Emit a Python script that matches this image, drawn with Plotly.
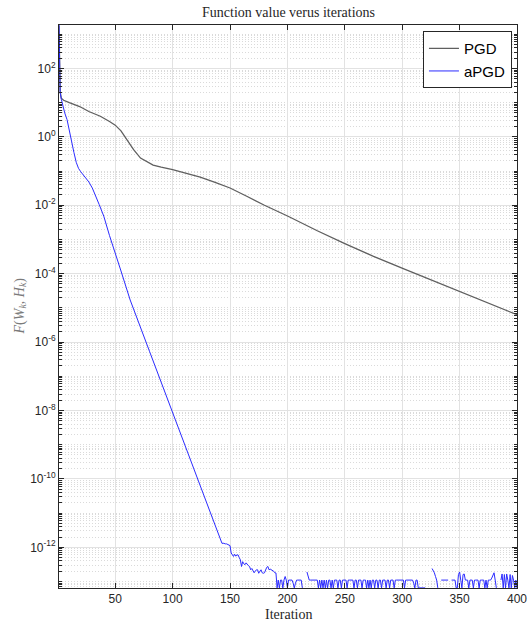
import plotly.graph_objects as go

# ---------------- data ----------------
pgd_iter = [1, 2, 3, 5, 10, 19, 27, 37, 45, 50, 55, 60, 66, 72, 78, 83, 90, 100,
            112, 124, 137, 150, 165, 180, 201, 226, 250, 275, 302, 353, 400]
pgd_val = [1.8e3, 21.0, 13.5, 11.7, 10.0, 7.7, 5.5, 4.0, 2.8, 2.2, 1.5, 0.81,
           0.42, 0.24, 0.18, 0.15, 0.13, 0.11, 0.085, 0.066, 0.047, 0.032,
           0.018, 0.010, 4.7e-3, 1.8e-3, 7.6e-4, 3.2e-4, 1.35e-4, 2.75e-5, 6.3e-6]

# aPGD: smooth part (iterations 1..143)
apgd_iter_a = [1, 2, 3, 4, 6, 8, 10, 12, 14, 16, 18, 20, 24, 27, 30, 33, 36, 40,
               45, 55, 63, 80, 100, 120, 136, 140, 143]
apgd_val_a = [1.86e3, 20.0, 12.6, 8.9, 5.0, 3.2, 1.4, 0.79, 0.35, 0.18, 0.12,
              0.095, 0.063, 0.048, 0.032, 0.019, 0.0105, 4.8e-3, 1.3e-3, 1.2e-4,
              1.7e-5, 5.2e-7, 8.7e-9, 1.45e-10, 5.5e-12, 2.5e-12, 1.3e-12]

# aPGD: round-off noise part, one value per iteration 144..400 (None = not positive)
apgd_start_b = 144
apgd_val_b = [
    # 144-150
    1.32e-12, 1.26e-12, 1.26e-12, 1.26e-12, 1.2e-12, 1.17e-12, 1.12e-12,
    # 151-160
    6.8e-13, 6.0e-13, 5.4e-13, 6.3e-13, 5.5e-13, 6.0e-13, 6.0e-13, 5.0e-13, 4.3e-13, 2.75e-13,
    # 161-170
    3.8e-13, 3.3e-13, 3.1e-13, 3.5e-13, 3.1e-13, 2.9e-13, 2.75e-13, 2.2e-13, 2.4e-13, 2.1e-13,
    # 171-180
    1.8e-13, 2.0e-13, 2.2e-13, 2.2e-13, 1.74e-13, 2.0e-13, 2.2e-13, 1.8e-13, 1.74e-13, 1.8e-13,
    # 181-190
    2.2e-13, 2.6e-13, 2.75e-13, 2.2e-13, 2.3e-13, 2.2e-13, 2.2e-13, 2.0e-13, 1.8e-13, 1.78e-13,
    # 191-200
    6.5e-14, 1.1e-13, 6.5e-14, 1.1e-13, 1.1e-13, 6.5e-14, 1.1e-13, 1.4e-13, 1.1e-13, 6.5e-14,
    # 201-210
    1.1e-13, 1.1e-13, 1.1e-13, 1.1e-13, 8.9e-14, 6.5e-14, 8.9e-14, 1.1e-13, 1.1e-13, 1.1e-13,
    # 211-220
    1.1e-13, 1.1e-13, 6.5e-14, None, None, None, 1.9e-13, 1.3e-13, 1.1e-13, 1.1e-13,
    # 221-230
    1.1e-13, 1.1e-13, 1.1e-13, 1.1e-13, 1.1e-13, 1.1e-13, 6.5e-14, 1.1e-13, 6.5e-14, 1.1e-13,
    # 231-240
    6.5e-14, 1.1e-13, 6.5e-14, 1.1e-13, 6.5e-14, 1.1e-13, 1.1e-13, 6.5e-14, 1.1e-13, 6.5e-14,
    # 241-250
    1.1e-13, 1.1e-13, 1.1e-13, 6.5e-14, 1.1e-13, 1.1e-13, 6.5e-14, 1.1e-13, 1.1e-13, 1.1e-13,
    # 251-260
    1.1e-13, 6.5e-14, 1.1e-13, 1.1e-13, 1.1e-13, 1.1e-13, 1.1e-13, 6.5e-14, 1.1e-13, 1.1e-13,
    # 261-270
    6.5e-14, 1.1e-13, 1.1e-13, 1.1e-13, 6.5e-14, 1.1e-13, 1.1e-13, 1.1e-13, 6.5e-14, 1.1e-13,
    # 271-280
    6.5e-14, 1.1e-13, 6.5e-14, 1.1e-13, 1.1e-13, 6.5e-14, 1.1e-13, 1.1e-13, 6.5e-14, 1.1e-13,
    # 281-290
    1.1e-13, 6.5e-14, 1.1e-13, 1.1e-13, 1.1e-13, 6.5e-14, 1.1e-13, 1.1e-13, 6.5e-14, 1.1e-13,
    # 291-300
    1.1e-13, 1.1e-13, 6.5e-14, 1.1e-13, 1.1e-13, 1.1e-13, 1.1e-13, 1.1e-13, 1.1e-13, 1.1e-13,
    # 301-310
    1.1e-13, 6.5e-14, 1.1e-13, 1.1e-13, 1.1e-13, 1.1e-13, 1.1e-13, 1.1e-13, 1.1e-13, 8.9e-14,
    # 311-320
    6.5e-14, 1.1e-13, 1.1e-13, 6.5e-14, 6.5e-14, 6.5e-14, 6.5e-14, 6.5e-14, 6.5e-14, 6.5e-14,
    # 321-330
    None, None, None, None, None, 2.4e-13, 2.1e-13, 1.8e-13, 1.4e-13, 1.1e-13,
    # 331-340
    6.5e-14, None, None, 1.1e-13, 1.1e-13, 1.1e-13, 1.1e-13, 1.1e-13, 1.1e-13, 1.1e-13,
    # 341-350
    None, None, 1.1e-13, 1.1e-13, 1.1e-13, 1.1e-13, 6.5e-14, 6.5e-14, 1.6e-13, 1.9e-13,
    # 351-360
    1.1e-13, 6.5e-14, 1.6e-13, 1.66e-13, 1.1e-13, 1.1e-13, 1.1e-13, 6.5e-14, 1.1e-13, 1.1e-13,
    # 361-370
    1.1e-13, 6.5e-14, 1.1e-13, 1.1e-13, 1.1e-13, 1.1e-13, 6.5e-14, 1.1e-13, 1.1e-13, 1.1e-13,
    # 371-380
    1.1e-13, 6.5e-14, 1.1e-13, 6.5e-14, 1.1e-13, 1.1e-13, 1.1e-13, 1.26e-13, 1.5e-13, 1.8e-13,
    # 381-390
    1.1e-13, 6.5e-14, None, None, None, 1.1e-13, 1.66e-13, 6.5e-14, 1.6e-13, 6.5e-14,
    # 391-400
    1.66e-13, 1.1e-13, 6.5e-14, 1.6e-13, 6.5e-14, 1.5e-13, 1.1e-13, 6.5e-14, 1.1e-13, 6.5e-14,
]

x_ticks = [50, 100, 150, 200, 250, 300, 350, 400]
y_tick_exp = [2, 0, -2, -4, -6, -8, -10, -12]

# ---------------- figure ----------------
apgd_iter = apgd_iter_a + list(range(apgd_start_b, apgd_start_b + len(apgd_val_b)))
apgd_val = apgd_val_a + apgd_val_b

AX = "#262626"
SERIF = "Liberation Serif, DejaVu Serif, serif"
SANS = "Liberation Sans, Arial, sans-serif"

fig = go.Figure()
fig.add_trace(go.Scatter(x=pgd_iter, y=pgd_val, mode="lines", name="PGD",
                         line=dict(color="#5f5f5f", width=1.3)))
fig.add_trace(go.Scatter(x=apgd_iter, y=apgd_val, mode="lines", name="aPGD",
                         connectgaps=False,
                         line=dict(color="#2b2bff", width=1)))

minor_vals = [k * 10.0 ** e for e in range(-14, 4) for k in range(1, 10)]

fig.update_layout(
    width=529, height=621,
    margin=dict(l=59, r=12, t=25, b=33),
    paper_bgcolor="white", plot_bgcolor="white",
    font=dict(family=SANS, size=12, color=AX),
    showlegend=True,
    legend=dict(x=0.989, y=0.989, xanchor="right", yanchor="top",
                bgcolor="white", bordercolor=AX, borderwidth=1,
                font=dict(family=SANS, size=15, color="black"),
                itemwidth=30, tracegroupgap=0),
    xaxis=dict(range=[1, 400], tickmode="array", tickvals=x_ticks,
               ticktext=[str(v) for v in x_ticks],
               ticks="inside", ticklen=5, tickcolor=AX, tickwidth=1,
               showline=True, linecolor=AX, linewidth=1, mirror="allticks",
               showgrid=True, gridcolor="#e2e2e2", gridwidth=1,
               zeroline=False, automargin=False,
               tickfont=dict(size=12, color=AX)),
    yaxis=dict(type="log", range=[-13.19, 3.27], tickmode="array",
               tickvals=[10.0 ** e for e in y_tick_exp],
               ticktext=["10<sup>%d</sup>" % e for e in y_tick_exp],
               ticks="inside", ticklen=5, tickcolor=AX, tickwidth=1,
               showline=True, linecolor=AX, linewidth=1, mirror="allticks",
               showgrid=True, gridcolor="#e2e2e2", gridwidth=1,
               zeroline=False, automargin=False,
               tickfont=dict(size=12, color=AX),
               minor=dict(tickmode="array", tickvals=minor_vals,
                          ticks="inside", ticklen=3, tickcolor=AX,
                          showgrid=True, gridcolor="#dadada", griddash="1px,2px",
                          gridwidth=1)),
    annotations=[
        dict(text="Function value verus iterations", xref="paper", yref="paper",
             x=0.5, y=1.0, yshift=13, xanchor="center", yanchor="middle", showarrow=False,
             font=dict(family=SERIF, size=14, color=AX)),
        dict(text="Iteration", xref="paper", yref="paper",
             x=0.5, y=0.0, yshift=-26, xanchor="center", yanchor="middle", showarrow=False,
             font=dict(family=SERIF, size=14, color=AX)),
        dict(text="<i>F</i>(<i>W<sub>k</sub></i>, <i>H<sub>k</sub></i>)",
             xref="paper", yref="paper", x=0.0, xshift=-39, y=0.5,
             xanchor="center", yanchor="middle", textangle=-90, showarrow=False,
             font=dict(family=SERIF, size=14, color="#7a7a7a")),
    ],
)

fig.write_html("out.html", config={"displayModeBar": False},
               post_script="document.body.style.margin='0px';document.body.style.overflow='hidden';")
